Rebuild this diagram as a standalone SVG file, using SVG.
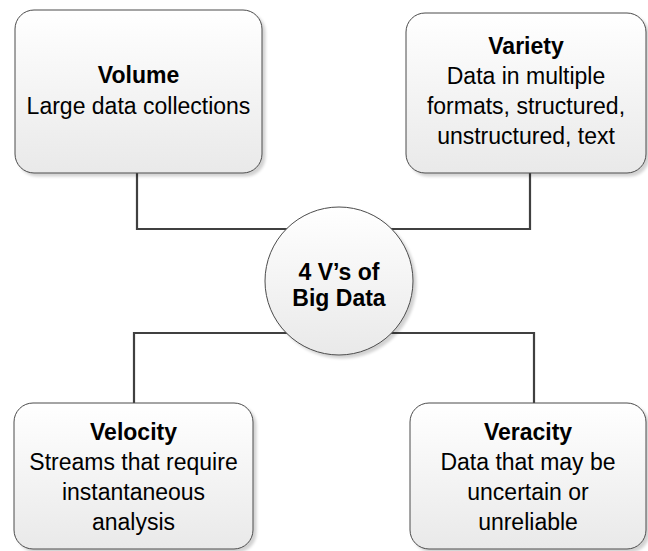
<svg xmlns="http://www.w3.org/2000/svg" width="648" height="551" viewBox="0 0 648 551">
  <defs>
    <linearGradient id="fillGrad" x1="0" y1="0" x2="0" y2="1">
      <stop offset="0" stop-color="#ffffff"/>
      <stop offset="1" stop-color="#e9e9e9"/>
    </linearGradient>
    <filter id="shadow" x="-10%" y="-10%" width="130%" height="130%">
      <feGaussianBlur in="SourceAlpha" stdDeviation="1.5"/>
      <feOffset dx="3" dy="3" result="off"/>
      <feComponentTransfer><feFuncA type="linear" slope="0.18"/></feComponentTransfer>
      <feMerge><feMergeNode/><feMergeNode in="SourceGraphic"/></feMerge>
    </filter>
  </defs>
  <style>
    .box { fill: url(#fillGrad); stroke: #4a4a4a; stroke-width: 1; filter: url(#shadow); }
    .link { fill: none; stroke: #404040; stroke-width: 2.2; }
    text { font-family: "Liberation Sans", Arial, sans-serif; font-size: 23px; fill: #000; text-anchor: middle; }
    .title { font-weight: bold; }
  </style>
  <rect width="648" height="551" fill="#ffffff"/>

  <!-- connectors -->
  <g id="connectors">
    <polyline class="link" points="137,173 137,229 530,229 530,173"/>
    <polyline class="link" points="134,403 134,333 534,333 534,403"/>
  </g>

  <g id="volume">
    <rect class="box" x="15" y="10" width="247" height="163" rx="19"/>
    <text class="title" x="138.5" y="83">Volume</text>
    <text x="138.5" y="114">Large data collections</text>
  </g>

  <g id="variety">
    <rect class="box" x="406" y="13" width="240" height="160" rx="19"/>
    <text class="title" x="526" y="54">Variety</text>
    <text x="526" y="84">Data in multiple</text>
    <text x="526" y="114">formats, structured,</text>
    <text x="526" y="144">unstructured, text</text>
  </g>

  <g id="center">
    <circle class="box" cx="339" cy="281" r="74"/>
    <text class="title" x="339" y="280">4 V’s of</text>
    <text class="title" x="339" y="306">Big Data</text>
  </g>

  <g id="velocity">
    <rect class="box" x="14" y="403" width="239" height="146" rx="19"/>
    <text class="title" x="133.5" y="440">Velocity</text>
    <text x="133.5" y="470">Streams that require</text>
    <text x="133.5" y="500">instantaneous</text>
    <text x="133.5" y="530">analysis</text>
  </g>

  <g id="veracity">
    <rect class="box" x="410" y="403" width="236" height="146" rx="19"/>
    <text class="title" x="528" y="440">Veracity</text>
    <text x="528" y="470">Data that may be</text>
    <text x="528" y="500">uncertain or</text>
    <text x="528" y="530">unreliable</text>
  </g>
</svg>
